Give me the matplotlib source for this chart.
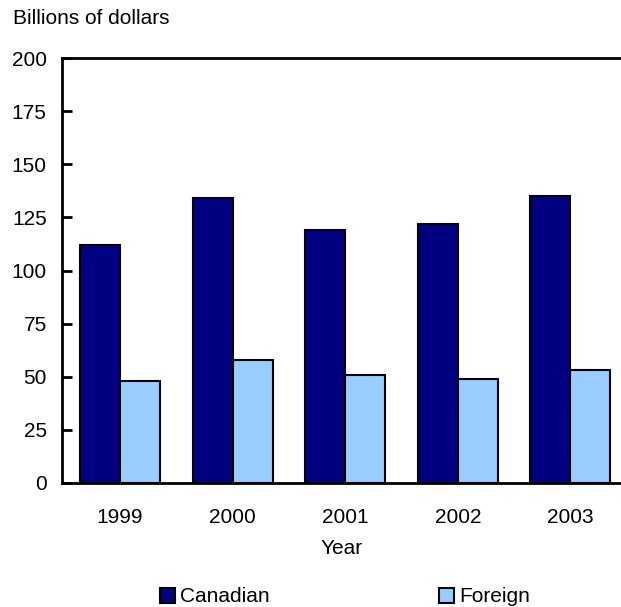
import matplotlib
matplotlib.use('Agg')
import matplotlib.pyplot as plt
import numpy as np
from matplotlib.patches import Patch

plt.rcParams['font.family'] = ['Liberation Sans', 'DejaVu Sans']

years = ['1999', '2000', '2001', '2002', '2003']
canadian = [112, 134, 119, 122, 135]
foreign = [48, 58, 51, 49, 53]

fig = plt.figure(figsize=(6.21, 6.07), dpi=100)
ax = fig.add_axes([62 / 621, 1 - 483 / 607, 1 - 62 / 621, (483 - 58) / 607])

x = np.arange(len(years))
w = 0.356
ax.bar(x - w / 2, canadian, w, color='#000080', edgecolor='black', linewidth=1.5)
ax.bar(x + w / 2, foreign, w, color='#99ccff', edgecolor='black', linewidth=1.5)

ax.set_xlim(-0.516, 4.45)
ax.set_ylim(0, 200)
ax.set_yticks(range(0, 201, 25))
ax.set_xticks(x)
ax.set_xticklabels(years)
ax.tick_params(axis='y', direction='in', length=7, width=2, labelsize=15, pad=11)
ax.tick_params(axis='x', length=0, labelsize=15, pad=18)

for s in ['left', 'top', 'bottom']:
    ax.spines[s].set_linewidth(2)
ax.spines['right'].set_visible(False)

ax.set_xlabel('Year', fontsize=15, labelpad=9)
fig.text(13 / 621, 1 - 19 / 607, 'Billions of dollars', fontsize=15, va='center', ha='left')

handles = [Patch(facecolor='#000080', edgecolor='black', linewidth=1.5),
           Patch(facecolor='#99ccff', edgecolor='black', linewidth=1.5)]
fig.legend(handles, ['Canadian', 'Foreign'], loc='center', bbox_to_anchor=(345 / 621, 1 - 597 / 607),
           ncol=2, frameon=False, fontsize=15, columnspacing=8.1, handlelength=0.75,
           handleheight=0.75, handletextpad=0.25, borderpad=0)

fig.savefig('out.png', dpi=100)
